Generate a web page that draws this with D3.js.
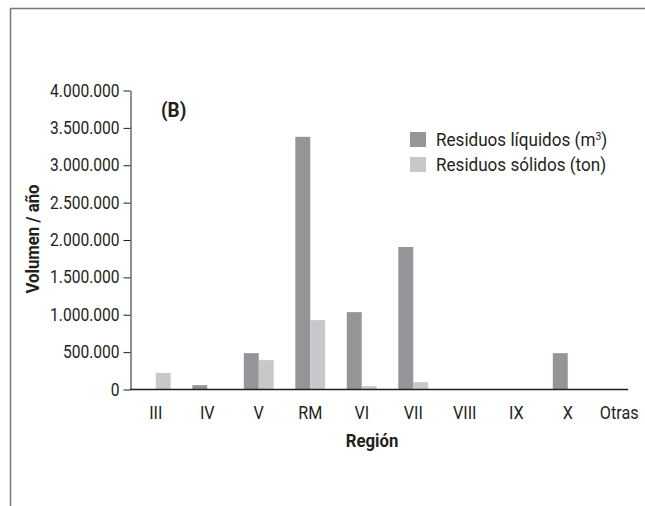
<!DOCTYPE html>
<html><head><meta charset="utf-8">
<script src="https://cdn.jsdelivr.net/npm/d3@7/dist/d3.min.js"></script>
<style>
body{margin:0;background:#fff;}
text{font-family:"Roboto",sans-serif;fill:#231f20;}
</style></head>
<body><svg id="c" width="645" height="506"></svg>
<script>
const categories = ["III","IV","V","RM","VI","VII","VIII","IX","X","Otras"];
const liquidos = [0, 58000, 486000, 3380000, 1035000, 1906000, 0, 0, 486000, 0];
const solidos  = [222000, 0, 393000, 928000, 44000, 98000, 0, 0, 0, 0];
const seriesNames = ["Residuos líquidos (m", "Residuos sólidos (ton)"];
const yTicks = [0,500000,1000000,1500000,2000000,2500000,3000000,3500000,4000000];
const colors = ["#939598","#c7c8ca"];

// horizontally condense text (reference uses a condensed face)
function squeeze(sel, k){
  sel.each(function(){
    const t = d3.select(this);
    const x = +(t.attr("x")||0);
    t.attr("x", x/k).attr("transform", `scale(${k},1)`);
  });
}

const svg = d3.select("#c");
svg.append("path").attr("d","M10.5,506 V8.5 H645").attr("fill","none").attr("stroke","#7a7a7a").attr("stroke-width",1.5);

const y = d3.scaleLinear().domain([0,4000000]).range([389.5,90.5]);
const x = d3.scaleBand().domain(categories).range([130,645]).paddingInner(0.42).paddingOuter(0.21);
const sub = d3.scaleBand().domain([0,1]).range([0,x.bandwidth()]);

const fmt = v => d3.format(",")(v).replace(/,/g,".");
const gy = svg.append("g").attr("transform","translate(130.5,0)")
  .call(d3.axisLeft(y).tickValues(yTicks).tickFormat(fmt).tickSize(7).tickSizeOuter(0).tickPadding(4));
gy.selectAll("path,line").attr("stroke","#231f20");
gy.selectAll("text").style("font-size","17.5px").attr("font-family",null).attr("fill","#231f20").call(squeeze,0.89);

const data = categories.map((c,i)=>({c, v:[liquidos[i], solidos[i]]}));
const g = svg.append("g");
data.forEach(d=>{
  d.v.forEach((v,j)=>{
    if(v<=0) return;
    g.append("rect").attr("x",x(d.c)+sub(j)).attr("width",sub.bandwidth())
      .attr("y",y(v)).attr("height",y(0)-y(v)).attr("fill",colors[j]);
  });
});
const last = categories[categories.length-1];
svg.append("line").attr("x1",130).attr("x2",x(last)+x.bandwidth()*0.8)
  .attr("y1",y(0)).attr("y2",y(0)).attr("stroke","#231f20").attr("stroke-width",1.5);

svg.append("g").selectAll("text").data(categories).join("text")
  .attr("x",d=>x(d)+x.bandwidth()/2).attr("y",419).attr("text-anchor","middle")
  .style("font-size","18px").text(d=>d).call(squeeze,0.9);

svg.append("text").attr("x",372).attr("y",447).attr("text-anchor","middle")
  .style("font-size","18px").style("font-weight","bold").text("Región").call(squeeze,0.93);
svg.append("text").attr("transform","translate(39,239) rotate(-90) scale(0.93,1)").attr("text-anchor","middle")
  .style("font-size","18px").style("font-weight","bold").text("Volumen / año");
svg.append("text").attr("x",161).attr("y",117).style("font-size","21px").style("font-weight","bold").text("(B)").call(squeeze,0.9);

const lg = svg.append("g");
seriesNames.forEach((n,i)=>{
  lg.append("rect").attr("x",410).attr("y",132+i*25).attr("width",16).attr("height",15).attr("fill",colors[i]);
  const t = lg.append("text").attr("x",436).attr("y",146+i*25).style("font-size","18px").text(n);
  if(i===0){
    t.append("tspan").attr("dy",-6).style("font-size","11px").text("3");
    t.append("tspan").attr("dy",6).text(")");
  }
  t.call(squeeze,0.95);
});
</script></body></html>
